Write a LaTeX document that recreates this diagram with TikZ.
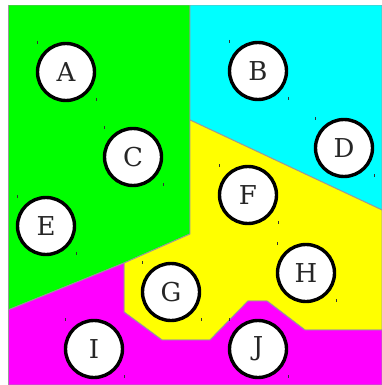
\documentclass[tikz,border=0pt]{standalone}
\usepackage{fontspec}
\setmainfont{DejaVu Serif}
\begin{document}
\begin{tikzpicture}[x=1pt,y=-1pt,
  region/.style={draw=gray!80,line width=0.9pt,line join=round},
  city/.style={circle,draw=black,line width=3.4pt,fill=white,minimum size=57pt,inner sep=0pt,font=\fontsize{26}{28}\selectfont,text=black!85},
  tick/.style={draw=black!80,line width=0.8pt}]
\useasboundingbox (0,0) rectangle (382,385);
\fill[white] (0,0) rectangle (382,385);
% regions
\filldraw[region,fill={rgb,255:red,0;green,255;blue,0}] (8,5) -- (190,5) -- (190,234) -- (124,263) -- (8,310) -- cycle;
\filldraw[region,fill={rgb,255:red,0;green,255;blue,255}] (190,5) -- (382,5) -- (382,210) -- (190,120) -- cycle;
\filldraw[region,fill={rgb,255:red,255;green,255;blue,0}] (190,120) -- (382,210) -- (382,330) -- (305,330) -- (267,301) -- (248,301) -- (210,340) -- (162,340) -- (124,312) -- (124,263) -- (190,234) -- cycle;
\filldraw[region,fill={rgb,255:red,255;green,0;blue,255}] (8,310) -- (124,263) -- (124,312) -- (162,340) -- (210,340) -- (248,301) -- (267,301) -- (305,330) -- (382,330) -- (382,385) -- (8,385) -- cycle;
\fill[white] (0,0) rectangle (8,385);
\fill[white] (0,0) rectangle (382,5);
\draw[gray!80,line width=0.9pt] (8,5) -- (8,385);
% nodes
\foreach \n/\x/\y in {A/66/72,B/258/71,C/133/157,D/344/148,E/46/226,F/248/195,G/171/292,H/306/273,I/94/349,J/258/349}{
  \node[city] (\n) at (\x,\y) {\n};
  \draw[tick] ([shift={(-29,-31)}]\n.center) -- ([shift={(-29,-28)}]\n.center);
  \draw[tick] ([shift={(30,26)}]\n.center) -- ([shift={(30,29)}]\n.center);
}
\end{tikzpicture}
\end{document}
